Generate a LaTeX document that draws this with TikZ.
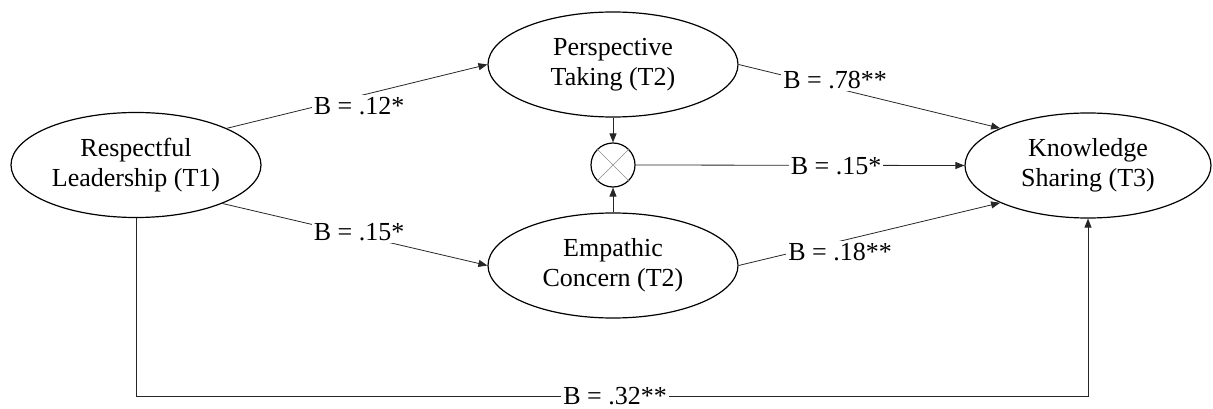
\documentclass[tikz,border=0pt]{standalone}
\usepackage{fontspec}
\setmainfont{Liberation Serif}
\usetikzlibrary{arrows.meta,shapes.geometric}
\begin{document}
\begin{tikzpicture}[x=1pt,y=-1pt,
  latent/.style={ellipse,draw,line width=1.2pt,minimum width=250pt,minimum height=105pt,inner sep=0pt,align=center,font=\fontsize{26}{30}\selectfont},
  coef/.style={fill=white,inner sep=2pt,font=\fontsize{26}{30}\selectfont},
  path/.style={line width=0.8pt,draw=black!85},
  arr/.style={path,-{Triangle[length=9pt,width=7pt]}}]
\useasboundingbox (0,0) rectangle (1213,409);
\node[latent] (RL) at (136,165) {Respectful\\Leadership (T1)};
\node[latent] (PT) at (613,64.5) {Perspective\\Taking (T2)};
\node[latent] (EC) at (613,265.5) {Empathic\\Concern (T2)};
\node[latent,minimum width=246pt] (KS) at (1088,165.5) {Knowledge\\Sharing (T3)};
\node[circle,draw,line width=1.2pt,minimum size=44pt,inner sep=0pt] (X) at (613,165) {};
\draw[line width=0.6pt,draw=black!45] (X.45) -- (X.225) (X.135) -- (X.-45);
% connectors
\draw[arr] (RL.22) -- (PT.west);
\draw[arr] (RL.-24) -- (EC.west);
\draw[arr] (PT.south) -- (X.north);
\draw[arr] (EC.north) -- (X.south);
\draw[arr] (PT.east) -- (KS.157);
\draw[arr] (X.east) -- (KS.west);
\draw[arr] (EC.east) -- (KS.-157);
\draw[arr] (RL.south) |- (KS.south |- 0,396) -- (KS.south);
% coefficient labels
\node[coef] (l12) at (359,106) {B = .12*};
\node[coef] (l15a) at (359,232) {B = .15*};
\node[coef] (l78) at (835,80) {B = .78**};
\node[coef] (l15b) at (836,166) {B = .15*};
\node[coef] (l18) at (840,252) {B = .18**};
\node[coef] (l32) at (615,396) {B = .32**};
\end{tikzpicture}
\end{document}
